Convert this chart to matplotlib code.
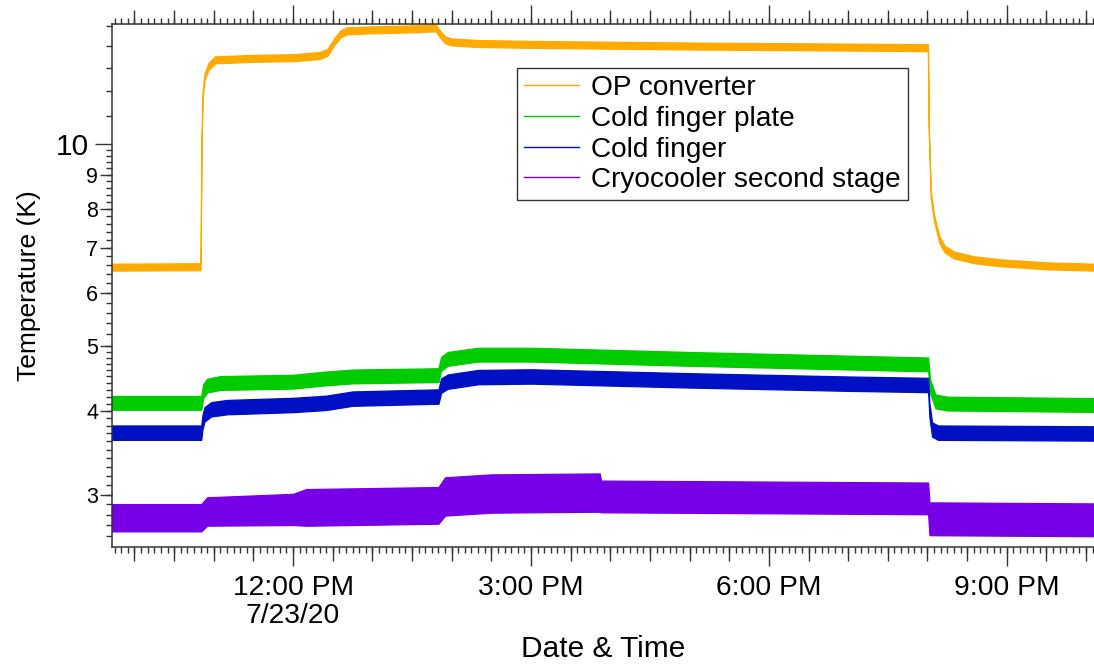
import numpy as np
import pandas as pd
import matplotlib
matplotlib.use("Agg")
import matplotlib.pyplot as plt
import matplotlib.dates as mdates
from matplotlib.ticker import FixedLocator, FixedFormatter, NullFormatter, NullLocator
from matplotlib.lines import Line2D

plt.rcParams["font.family"] = ["Liberation Sans", "DejaVu Sans"]

DAY = "2020-07-23 "

# ---- temperature records (time of day, kelvin) ----
op_times = ["09:43:00", "10:50:00", "10:50:40", "10:51:30", "10:53:00", "10:56:00", "11:01:00",
            "11:30:00", "12:00:00", "12:20:00", "12:26:00", "12:31:00", "12:36:00", "12:41:00",
            "13:00:00", "13:30:00", "13:48:00", "13:51:00", "13:55:00", "14:00:00", "14:20:00",
            "15:00:00", "17:00:00", "19:00:00", "20:00:20", "20:01:00", "20:02:30", "20:05:00",
            "20:09:00", "20:13:00", "20:20:00", "20:35:00", "20:55:00", "21:30:00", "22:06:00"]
op_temps = [6.55, 6.56, 9.8, 11.8, 12.6, 13.05, 13.35,
            13.42, 13.45, 13.55, 13.7, 14.2, 14.6, 14.75,
            14.8, 14.85, 14.9, 14.6, 14.3, 14.2, 14.12,
            14.08, 14.0, 13.95, 13.92, 10.5, 8.4, 7.75,
            7.2, 6.97, 6.83, 6.72, 6.65, 6.58, 6.55]

plate_times = ["09:43:00", "10:50:30", "10:52:00", "10:55:00", "11:05:00", "12:00:00", "12:25:00",
               "12:45:00", "13:50:00", "13:52:00", "13:57:00", "14:20:00", "15:00:00", "17:00:00",
               "19:00:00", "20:00:30", "20:02:00", "20:06:00", "20:15:00", "22:06:00"]
plate_temps = [4.11, 4.11, 4.28, 4.36, 4.40, 4.42, 4.47,
               4.50, 4.52, 4.70, 4.78, 4.85, 4.85, 4.78,
               4.72, 4.69, 4.35, 4.13, 4.10, 4.08]

finger_times = ["09:43:00", "10:50:30", "10:51:30", "10:53:00", "10:58:00", "11:10:00", "12:00:00",
                "12:25:00", "12:45:00", "13:50:00", "13:52:00", "13:57:00", "14:20:00", "15:00:00",
                "17:00:00", "19:00:00", "20:00:30", "20:01:30", "20:03:30", "20:08:00", "22:06:00"]
finger_temps = [3.71, 3.71, 3.85, 3.95, 4.02, 4.05, 4.08,
                4.11, 4.17, 4.20, 4.36, 4.42, 4.49, 4.50,
                4.44, 4.39, 4.37, 4.0, 3.75, 3.71, 3.70]

cryo_times = ["09:43:00", "10:50:30", "10:55:00", "12:00:00", "12:10:00", "13:50:00", "13:55:00",
              "14:30:00", "15:52:00", "15:53:00", "18:00:00", "20:00:30", "20:01:30", "22:06:00"]
cryo_temps = [2.77, 2.77, 2.83, 2.85, 2.87, 2.89, 2.98,
              3.01, 3.02, 2.98, 2.97, 2.96, 2.76, 2.75]

# ratio between the top of each noisy trace and its mid level
op_spread = 1.012
plate_spread = 1.024
finger_spread = 1.025
cryo_spread = [1.048, 1.048, 1.05, 1.055, 1.065, 1.065, 1.068,
               1.068, 1.068, 1.056, 1.056, 1.056, 1.058, 1.058]

series_names = ["OP converter", "Cold finger plate", "Cold finger", "Cryocooler second stage"]
series_colors = ["#FFAA00", "#00CC00", "#0010C4", "#7700E8"]

x_range = ["09:43:00", "22:06:00"]
y_range = [2.505, 15.1]
x_major = ["12:00", "15:00", "18:00", "21:00"]
x_major_labels = ["12:00 PM\n7/23/20", "3:00 PM", "6:00 PM", "9:00 PM"]
y_major = [10]
y_mid = [3, 4, 5, 6, 7, 8, 9]


def to_num(times):
    return mdates.date2num(pd.to_datetime([DAY + t for t in times]))


fig = plt.figure(figsize=(10.94, 6.66), dpi=100)
ax = fig.add_axes([112 / 1094, 1 - 547 / 666, 1 - 112 / 1094, (547 - 24) / 666])

series = [(op_times, op_temps, op_spread),
          (plate_times, plate_temps, plate_spread),
          (finger_times, finger_temps, finger_spread),
          (cryo_times, cryo_temps, cryo_spread)]
for (times, temps, spread), color in zip(series, series_colors):
    t = to_num(times)
    mid = np.asarray(temps, dtype=float)
    f = np.broadcast_to(np.asarray(spread, dtype=float), mid.shape)
    ax.fill_between(t, mid / f, mid * f, color=color, edgecolor=color, linewidth=0.9)

ax.set_yscale("log")
ax.set_ylim(*y_range)
ax.set_xlim(*to_num(x_range))

spine_col = "#333333"
for side in ("left", "bottom", "top"):
    ax.spines[side].set_color(spine_col)
    ax.spines[side].set_linewidth(1.1)
ax.spines["right"].set_visible(False)

# x axis: labelled 3-hour ticks, 30-minute ticks, and 5-minute ticks
ax.xaxis.set_major_locator(FixedLocator(to_num(x_major)))
ax.xaxis.set_major_formatter(FixedFormatter(x_major_labels))
half_hours = mdates.date2num(pd.date_range(DAY + "09:30", DAY + "22:30", freq="30min"))
ax.xaxis.set_minor_locator(FixedLocator(half_hours))
ax.xaxis.set_minor_formatter(NullFormatter())
ax.tick_params(axis="x", which="major", direction="out", length=14, width=1.0, color=spine_col,
               top=True, bottom=True, labelsize=20.3, pad=6)
ax.tick_params(axis="x", which="minor", direction="out", length=10, width=1.0, color=spine_col,
               top=True, bottom=True)
for lab in ax.get_xticklabels():
    lab.set_linespacing(1.12)

five_min = mdates.date2num(pd.date_range(DAY + "09:30", DAY + "22:30", freq="5min"))
for loc in ("bottom", "top"):
    sec = ax.secondary_xaxis(loc, functions=(lambda v: v, lambda v: v))
    sec.spines[loc].set_visible(False)
    sec.xaxis.set_major_locator(FixedLocator(five_min))
    sec.xaxis.set_major_formatter(NullFormatter())
    sec.xaxis.set_minor_locator(NullLocator())
    sec.tick_params(axis="x", direction="out", length=4.5, width=1.0, color=spine_col)

# y axis: decade label, integer labels, and fine ticks
ax.yaxis.set_major_locator(FixedLocator(y_major))
ax.yaxis.set_major_formatter(FixedFormatter([str(v) for v in y_major]))
ax.yaxis.set_minor_locator(FixedLocator(y_mid))
ax.yaxis.set_minor_formatter(FixedFormatter([str(v) for v in y_mid]))
ax.tick_params(axis="y", which="major", direction="out", length=12, width=1.0, color=spine_col,
               labelsize=21.5, pad=5)
ax.tick_params(axis="y", which="minor", direction="out", length=9, width=1.0, color=spine_col,
               labelsize=15.5, pad=1)

fine_y = np.concatenate([np.arange(2.6, 5.0, 0.1), np.arange(5.0, 10.0, 0.2), np.arange(11, 16, 1)])
secy = ax.secondary_yaxis("left", functions=(lambda v: v, lambda v: v))
secy.spines["left"].set_visible(False)
secy.yaxis.set_major_locator(FixedLocator(fine_y))
secy.yaxis.set_major_formatter(NullFormatter())
secy.yaxis.set_minor_locator(NullLocator())
secy.tick_params(axis="y", direction="out", length=4.5, width=1.0, color=spine_col)

ax.set_xlabel("Date & Time", fontsize=21.5, labelpad=4)
ax.set_ylabel("Temperature (K)", fontsize=19, labelpad=10)

handles = [Line2D([], [], color=c, lw=1.0) for c in series_colors]
leg = ax.legend(handles, series_names, loc="upper left", bbox_to_anchor=(0.4124, 0.9159),
                borderaxespad=0, fancybox=False, framealpha=1, edgecolor=spine_col,
                fontsize=20.2, handlelength=1.95, handletextpad=0.45, labelspacing=0.17,
                borderpad=0.25)
leg.get_frame().set_linewidth(1.0)

fig.savefig("out.png", dpi=100)
